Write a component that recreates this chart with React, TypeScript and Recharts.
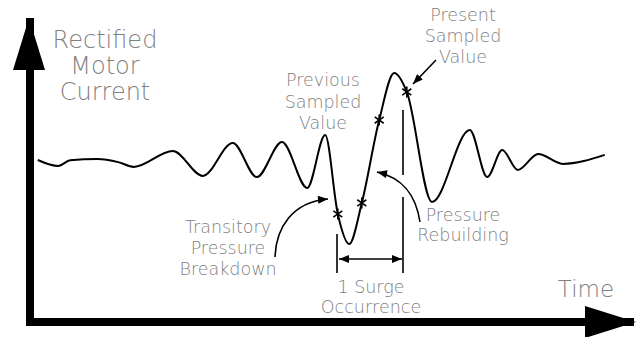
import React from 'react';
import { ComposedChart, Line, Scatter, XAxis, YAxis, Customized } from 'recharts';

// Time (arbitrary units 0-100) and rectified motor current (arbitrary units 0-100)
const time = [1.3, 4.7, 6.7, 11.2, 14.7, 17.3, 23.8, 28.8, 33.8, 37.8, 42.0, 46.2, 49.2, 51.3, 53.2, 55.3, 58.2, 60.7, 62.8, 67.0, 73.3, 76.2, 78.7, 81.3, 84.7, 88.8, 95.8];
const current = [54.0, 52.0, 53.9, 54.3, 53.3, 51.7, 57.0, 48.7, 59.7, 48.3, 60.0, 44.7, 62.3, 36.0, 26.0, 39.7, 67.3, 83.0, 76.7, 40.0, 64.0, 48.3, 57.3, 50.7, 56.0, 52.7, 55.7];

const sampleTimes = [51.3, 55.3, 58.2, 62.8];
const sampleCurrents = [36.0, 39.7, 67.3, 76.7];

const W = 638;
const H = 337;
const M = { top: 22, right: 8, bottom: 0, left: 0 };
const YW = 30;
const XH = 15;

const lineData = time.map((t, i) => ({ t, c: current[i] }));
const sampleData = sampleTimes.map((t, i) => ({ t, c: sampleCurrents[i] }));

const TXT = '#808080';
const FONT = "'DejaVu Sans ExtraLight', 'DejaVu Sans', sans-serif";

const Asterisk = (props: any) => {
  const { cx, cy } = props;
  if (cx == null || cy == null) return null;
  const r = 5.5;
  const a = (35 * Math.PI) / 180;
  const dx = r * Math.cos(a);
  const dy = r * Math.sin(a);
  return (
    <g stroke="#000" strokeWidth={1.6}>
      <line x1={cx} y1={cy - r} x2={cx} y2={cy + r} />
      <line x1={cx - dx} y1={cy - dy} x2={cx + dx} y2={cy + dy} />
      <line x1={cx - dx} y1={cy + dy} x2={cx + dx} y2={cy - dy} />
    </g>
  );
};

const Lines = ({ x, y, lines, size, gap }: any) => (
  <text x={x} textAnchor="middle" fill={TXT} fontFamily={FONT} fontWeight={200} fontSize={size}>
    {lines.map((l: string, i: number) => (
      <tspan key={i} x={x} y={y + i * gap}>
        {l}
      </tspan>
    ))}
  </text>
);

const Annotations = () => (
  <g>
    <defs>
      <marker id="ah" viewBox="0 0 10 8" refX="10" refY="4" markerWidth="11" markerHeight="8" markerUnits="userSpaceOnUse" orient="auto-start-reverse">
        <path d="M0,0 L10,4 L0,8 z" fill="#000" />
      </marker>
    </defs>
    {/* axis arrowheads */}
    <polygon points="29,18 45,70 13,70" fill="#000" />
    <polygon points="636,322 585,306 585,338" fill="#000" />

    {/* texts */}
    <Lines x={105} y={48} lines={['Rectified', 'Motor', 'Current']} size={24} gap={26} />
    <Lines x={323} y={86} lines={['Previous', 'Sampled', 'Value']} size={17.5} gap={21.5} />
    <Lines x={463} y={21} lines={['Present', 'Sampled', 'Value']} size={17.5} gap={21} />
    <Lines x={228} y={233} lines={['Transitory', 'Pressure', 'Breakdown']} size={17.5} gap={21} />
    <Lines x={463} y={221} lines={['Pressure', 'Rebuilding']} size={17.5} gap={19.5} />
    <Lines x={371} y={293} lines={['1 Surge', 'Occurrence']} size={17.5} gap={20} />
    <Lines x={586} y={297} lines={['Time']} size={23} gap={0} />

    {/* arrows */}
    <line x1={436} y1={60} x2={413} y2={84} stroke="#000" strokeWidth={1.6} markerEnd="url(#ah)" />
    <path d="M275,257 C276,228 292,202 328,199" fill="none" stroke="#000" strokeWidth={1.6} markerEnd="url(#ah)" />
    <path d="M420,222 C416,196 404,178 377,172" fill="none" stroke="#000" strokeWidth={1.6} markerEnd="url(#ah)" />

    {/* surge span */}
    <line x1={337} y1={234} x2={337} y2={273} stroke="#000" strokeWidth={1.6} />
    <line x1={403} y1={110} x2={403} y2={175} stroke="#000" strokeWidth={1.6} />
    <line x1={403} y1={197} x2={403} y2={273} stroke="#000" strokeWidth={1.6} />
    <line x1={339} y1={259} x2={402} y2={259} stroke="#000" strokeWidth={1.6} markerStart="url(#ah)" markerEnd="url(#ah)" />
  </g>
);

export default function App() {
  return (
    <div style={{ position: 'absolute', left: 0, top: 0, background: '#fff' }}>
      <ComposedChart width={W} height={H} data={lineData} margin={M}>
        <XAxis
          type="number"
          dataKey="t"
          domain={[0, 100]}
          allowDataOverflow
          tick={false}
          tickLine={false}
          height={XH}
          axisLine={{ stroke: '#000', strokeWidth: 8, strokeLinecap: 'square' }}
        />
        <YAxis
          type="number"
          domain={[0, 100]}
          allowDataOverflow
          tick={false}
          tickLine={false}
          width={YW}
          axisLine={{ stroke: '#000', strokeWidth: 8, strokeLinecap: 'square' }}
        />
        <Line type="monotone" dataKey="c" stroke="#000" strokeWidth={2} dot={false} isAnimationActive={false} />
        <Scatter data={sampleData} dataKey="c" shape={Asterisk} isAnimationActive={false} />
        <Customized component={Annotations} />
      </ComposedChart>
    </div>
  );
}
